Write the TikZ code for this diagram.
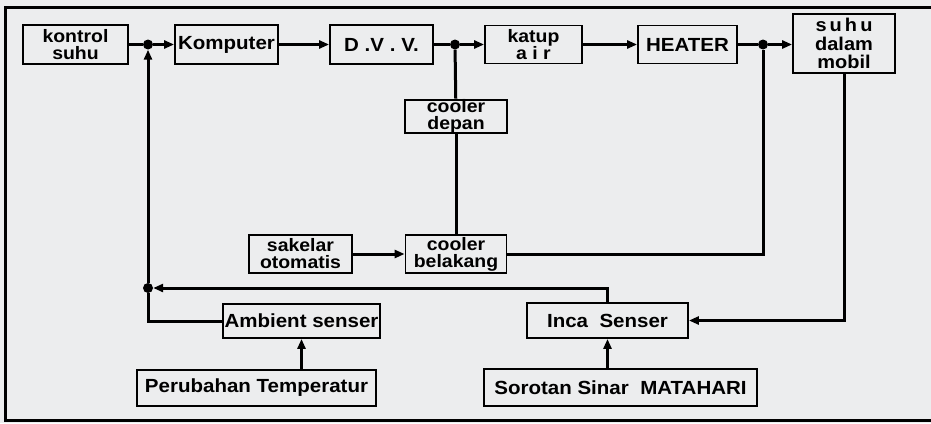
\documentclass[tikz,border=0pt]{standalone}
\usepackage{fontspec}
\setmainfont{Liberation Sans}[FakeStretch=1.08]
\usetikzlibrary{arrows.meta}
\definecolor{bgcol}{RGB}{236,237,238}
\begin{document}
\begin{tikzpicture}[x=1pt,y=-1pt,
  box/.style 2 args={draw, line width=1.8pt, inner sep=0pt, align=center,
    minimum width=#1pt, minimum height=#2pt,
    font=\bfseries\fontsize{19}{17.5}\selectfont},
  tight/.style={font=\bfseries\fontsize{18}{17}\selectfont},
  loose/.style={font=\bfseries\fontsize{18.5}{18.5}\selectfont},
  conn/.style={line width=3pt},
  arr/.style={conn, -{Triangle[length=10pt,width=8pt]}},
  dot/.style={circle, fill, inner sep=0pt, minimum size=10pt}]
\useasboundingbox (0,0) rectangle (931,423);
\fill[bgcol] (0,0) rectangle (931,423);
\draw[line width=3pt] (931,7) -- (5,7) -- (5,420) -- (931,420);

% boxes
\node[box={105}{39}, tight] (ks) at (75.5,44.5) {kontrol\\suhu};
\node[box={103}{39}] (kom) at (226.5,44.5) {Komputer};
\node[box={103}{39}] (dvv) at (381.5,44.5) {D .V . V.};
\node[box={97}{38}, tight] (katup) at (533.5,44.5) {katup\\a i r};
\node[box={99}{38}] (heater) at (687.5,44.5) {HEATER};
\node[box={102}{59}, loose] (suhu) at (844,43.5) {s\,u\,h\,u\\dalam\\mobil};
\node[box={102}{33}, tight] (cd) at (456,116.5) {cooler\\depan};
\node[box={103}{38}, tight] (sak) at (300.5,254) {sakelar\\otomatis};
\node[box={101}{38}, tight] (cb) at (456,254) {cooler\\belakang};
\node[box={157}{34}] (amb) at (301.5,321) {Ambient senser};
\node[box={161}{35}] (inca) at (607.5,320.5) {Inca\ \ Senser};
\node[box={239}{36}] (per) at (256.5,388) {Perubahan Temperatur};
\node[box={273}{37}] (sor) at (620.5,387.5) {Sorotan Sinar\ \ MATAHARI};

% junctions
\node[dot] (j1) at (148,44.5) {};
\node[dot] (j2) at (455,44.5) {};
\node[dot] (j3) at (763,44.5) {};
\node[dot] (j4) at (148,288) {};

% connectors
\draw[conn] (ks) -- (j1);
\draw[arr] (j1) -- (kom);
\draw[arr] (kom) -- (dvv);
\draw[conn] (dvv) -- (j2);
\draw[arr] (j2) -- (katup);
\draw[arr] (katup) -- (heater);
\draw[conn] (heater) -- (j3);
\draw[arr] (j3) -- (suhu.west |- j3);
\draw[conn] (j2) -- (cd);
\draw[conn] (cd) -- (cb);
\draw[arr] (sak) -- (cb);
\draw[conn] (cb.east) -| (j3);
\draw[arr] (j4) -- (j1);
\draw[arr] (inca.north) |- (j4);
\draw[conn] (amb.west) -| (j4);
\draw[arr] (per.north -| amb.south) -- (amb.south);
\draw[arr] (sor.north -| inca.south) -- (inca.south);
\draw[arr] (suhu.south) |- (inca.east);
\end{tikzpicture}
\end{document}
